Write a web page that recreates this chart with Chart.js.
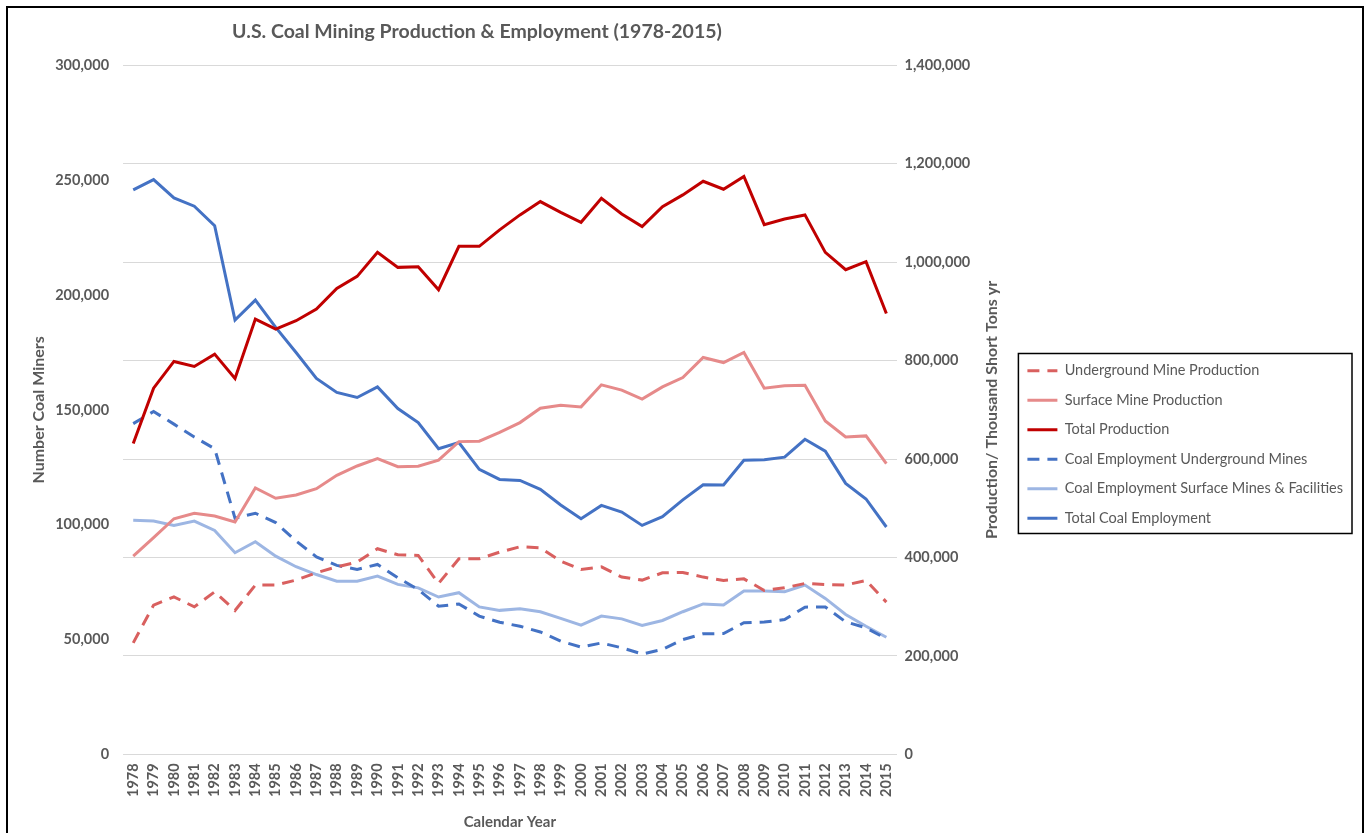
<!DOCTYPE html>
<html>
<head>
<meta charset="utf-8">
<title>U.S. Coal Mining Production &amp; Employment</title>
<script src="https://cdn.jsdelivr.net/npm/chart.js@4"></script>
<style>
  html, body { margin: 0; padding: 0; background: #fff; overflow: hidden; }
  .frame { position: absolute; left: 6px; top: 6px; width: 1354px; height: 840px; border: 2px solid #000; }
  #coalChart { display: block; }
</style>
</head>
<body>
<div class="frame"><canvas id="coalChart" width="1354" height="825"></canvas></div>
<script>
const years = ['1978', '1979', '1980', '1981', '1982', '1983', '1984', '1985', '1986', '1987',
  '1988', '1989', '1990', '1991', '1992', '1993', '1994', '1995', '1996', '1997', '1998', '1999',
  '2000', '2001', '2002', '2003', '2004', '2005', '2006', '2007', '2008', '2009', '2010', '2011',
  '2012', '2013', '2014', '2015'];

// production, thousand short tons (right axis)
const undergroundProduction = [226500, 303200, 320100, 299700, 330300, 292400, 343900, 343900, 354100, 368900,
  381100, 390700, 417800, 405600, 404300, 347300, 397400, 397400, 411000, 421800, 419800, 392700,
  375800, 381100, 360200, 354100, 368900, 369700, 360200, 353400, 356700, 333100, 338400, 347300,
  345300, 343900, 353400, 309300];
const surfaceProduction = [402900, 440200, 478800, 489800, 484300, 472100, 541300, 520300, 527000, 539900,
  567100, 586000, 600900, 584600, 585400, 597700, 635500, 636300, 654500, 674200, 703400, 709600,
  706100, 750900, 740100, 721800, 746800, 765700, 806400, 796200, 816600, 744100, 748800, 750200,
  677600, 645000, 647100, 590700];
const totalProduction = [631500, 744100, 798400, 788200, 813300, 763800, 884500, 864200, 881100, 904900,
  946900, 971300, 1020100, 989600, 991000, 944200, 1032300, 1032300, 1065700, 1096200, 1123300, 1101500,
  1081200, 1130000, 1098200, 1072400, 1113100, 1136900, 1164600, 1148300, 1174200, 1076500, 1088000, 1096200,
  1020100, 984900, 1001200, 896000];

// employment, number of miners (left axis)
const employmentUnderground = [144000, 149300, 143800, 138200, 133100, 102800, 105000, 100900, 92900, 86000,
  82300, 80500, 82700, 76900, 71800, 64500, 65500, 60200, 57500, 55800, 53300, 49300,
  46700, 48500, 46400, 43700, 45700, 50000, 52500, 52600, 57300, 57600, 58700, 64100,
  64200, 57700, 55100, 50300];
const employmentSurface = [101900, 101600, 99700, 101600, 97500, 87800, 92600, 86300, 81700, 78300,
  75400, 75400, 77600, 74000, 72500, 68500, 70400, 64200, 62700, 63400, 62100, 59200,
  56300, 60200, 59000, 56100, 58300, 62100, 65500, 65000, 71100, 71100, 70800, 73700,
  67900, 60900, 55800, 51000];
const totalEmployment = [245800, 250300, 242300, 238700, 230200, 189100, 197800, 185900, 175000, 163700,
  157600, 155400, 160000, 150600, 144500, 133100, 135800, 124100, 119700, 119300, 115400, 108600,
  102600, 108400, 105500, 99700, 103500, 110800, 117400, 117300, 128100, 128300, 129400, 137200,
  132000, 118000, 111200, 99000];

const leftTicks = [0, 50000, 100000, 150000, 200000, 250000, 300000];
const rightTicks = [0, 200000, 400000, 600000, 800000, 1000000, 1200000, 1400000];

const grey = '#595959';
const rightTitle = 'Production/ Thousand Short Tons yr';
const fmt = v => Number(v).toLocaleString('en-US');

Chart.defaults.font.family = 'Lato, "Open Sans", sans-serif';

function series(label, data, color, axis, dashed) {
    return {
        label: label,
        data: data,
        borderColor: color,
        backgroundColor: color,
        borderWidth: 3,
        borderDash: dashed ? [12, 8] : [],
        pointRadius: 0,
        tension: 0,
        fill: false,
        yAxisID: axis
    };
}

// Excel-ish bits Chart.js doesn't do on its own: wide framed legend on the right,
// title centred over plot+axes only, right axis title reading bottom-up
const excelLayout = {
    id: 'excelLayout',
    beforeLayout(chart) {
        const lg = chart.legend;
        if (lg && !lg._wide) {
            const update = lg.update;
            lg.update = function (maxWidth, maxHeight, margins) {
                return update.call(this, Math.max(maxWidth, 420), maxHeight, margins);
            };
            lg._wide = true;
        }
    },
    afterLayout(chart) {
        const t = chart.titleBlock;
        t.left = 0;
        t.right = 938;
        t.width = 938;
        chart.legend.top += 24;
        chart.legend.bottom += 24;
    },
    afterDraw(chart) {
        const c = chart.ctx;
        const boxes = chart.legend.legendHitBoxes;
        if (boxes && boxes.length) {
            let l = Infinity, r = -Infinity, t = Infinity, b = -Infinity;
            boxes.forEach(h => {
                l = Math.min(l, h.left);
                r = Math.max(r, h.left + h.width);
                t = Math.min(t, h.top);
                b = Math.max(b, h.top + h.height);
            });
            c.save();
            c.strokeStyle = '#000';
            c.lineWidth = 1.5;
            c.strokeRect(l - 9, t - 10, r - l + 18, b - t + 18);
            c.restore();
        }

        const s = chart.scales.y1;
        const area = chart.chartArea;
        c.save();
        c.translate(s.right - 21, (area.top + area.bottom) / 2);
        c.rotate(-Math.PI / 2);
        c.font = 'bold 16px Lato, "Open Sans", sans-serif';
        c.fillStyle = grey;
        c.textAlign = 'center';
        c.textBaseline = 'middle';
        c.fillText(rightTitle, 0, 0);
        c.restore();
    }
};

document.addEventListener('DOMContentLoaded', function () {

    const ctx = document.getElementById('coalChart');

    new Chart(ctx, {
        type: 'line',
        data: {
            labels: years,
            datasets: [
                series('Underground Mine Production', undergroundProduction, '#d9605f', 'y1', true),
                series('Surface Mine Production', surfaceProduction, '#e68a8a', 'y1', false),
                series('Total Production', totalProduction, '#c00000', 'y1', false),
                series('Coal Employment Underground Mines', employmentUnderground, '#4472c4', 'y', true),
                series('Coal Employment Surface Mines & Facilities', employmentSurface, '#9db6e3', 'y', false),
                series('Total Coal Employment', totalEmployment, '#4472c4', 'y', false)
            ]
        },
        options: {
            responsive: false,
            animation: false,
            layout: { padding: { left: 21, right: 9, top: 0, bottom: 0 } },
            plugins: {
                title: {
                    display: true,
                    text: 'U.S. Coal Mining Production & Employment (1978-2015)',
                    color: grey,
                    font: { size: 19.5, weight: 'bold' },
                    padding: { top: 12, bottom: 22 }
                },
                legend: {
                    position: 'right',
                    labels: {
                        color: grey,
                        font: { size: 14.5 },
                        usePointStyle: true,
                        pointStyle: 'line',
                        pointStyleWidth: 30,
                        padding: 15,
                        generateLabels(chart) {
                            const items = Chart.defaults.plugins.legend.labels.generateLabels(chart);
                            items.forEach(it => {
                                const ds = chart.data.datasets[it.datasetIndex];
                                it.lineDash = ds.borderDash;
                                it.lineWidth = ds.borderWidth;
                                it.strokeStyle = ds.borderColor;
                            });
                            return items;
                        }
                    }
                },
                tooltip: { enabled: false }
            },
            scales: {
                x: {
                    offset: true,
                    grid: { display: false },
                    border: { display: false },
                    ticks: {
                        color: grey,
                        font: { size: 14.5, weight: 'bold' },
                        minRotation: 90,
                        maxRotation: 90,
                        autoSkip: false,
                        padding: 1
                    },
                    title: {
                        display: true,
                        text: 'Calendar Year',
                        color: grey,
                        font: { size: 15, weight: 'bold' },
                        padding: { top: 15, bottom: 2 }
                    }
                },
                y: {
                    position: 'left',
                    min: leftTicks[0],
                    max: leftTicks[leftTicks.length - 1],
                    afterBuildTicks: axis => { axis.ticks = leftTicks.map(v => ({ value: v })); },
                    grid: { display: false, drawTicks: true, tickLength: 7 },
                    border: { display: false },
                    ticks: { color: grey, font: { size: 14.5, weight: 'bold' }, padding: 7, callback: fmt },
                    title: {
                        display: true,
                        text: 'Number Coal Miners',
                        color: grey,
                        font: { size: 16, weight: 'bold' },
                        padding: { top: 0, bottom: 0 }
                    }
                },
                y1: {
                    position: 'right',
                    min: rightTicks[0],
                    max: rightTicks[rightTicks.length - 1],
                    afterBuildTicks: axis => { axis.ticks = rightTicks.map(v => ({ value: v })); },
                    grid: { color: '#d9d9d9', lineWidth: 1, drawTicks: true, tickLength: 1, tickColor: 'rgba(0,0,0,0)' },
                    border: { display: false },
                    ticks: { color: grey, font: { size: 14.5, weight: 'bold' }, padding: 7, callback: fmt },
                    // space holder only, the bottom-up text is drawn by excelLayout
                    title: {
                        display: true,
                        text: rightTitle,
                        color: 'rgba(0,0,0,0)',
                        font: { size: 16, weight: 'bold' },
                        padding: { top: 4, bottom: 12 }
                    }
                }
            }
        },
        plugins: [excelLayout]
    });

});
</script>
</body>
</html>
